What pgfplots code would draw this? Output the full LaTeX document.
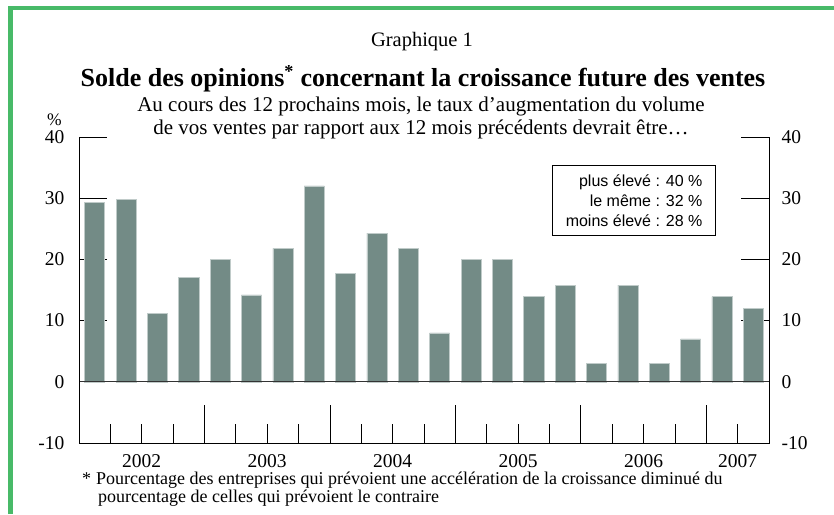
\documentclass[border=0pt]{standalone}
\usepackage{fontspec}
\setmainfont{Liberation Serif}
\setsansfont{Liberation Sans}
\usepackage{pgfplots}
\pgfplotsset{compat=1.18}
\definecolor{barcol}{RGB}{115,139,134}
\definecolor{framegreen}{RGB}{72,186,104}
\begin{document}
\begin{tikzpicture}
\useasboundingbox (0pt,0pt) rectangle (834pt,514pt);
\draw[line width=4.3pt, framegreen] (10.5pt,0pt) -- (10.5pt,506pt) -- (834pt,506pt);
% titles
\node[anchor=base, inner sep=0pt, font=\fontsize{20.5}{24}\selectfont] at (422pt,467.3pt) {Graphique 1};
\node[anchor=base, inner sep=0pt, font=\bfseries\fontsize{26}{30}\selectfont] at (423pt,427.3pt) {Solde des opinions\textsuperscript{*} concernant la croissance future des ventes};
\node[anchor=base, inner sep=0pt, font=\fontsize{21}{24}\selectfont] at (421pt,402pt) {Au cours des 12 prochains mois, le taux d’augmentation du volume};
\node[anchor=base, inner sep=0pt, font=\fontsize{21}{24}\selectfont] at (421pt,379pt) {de vos ventes par rapport aux 12 mois précédents devrait être…};
\node[anchor=base, inner sep=0pt, font=\fontsize{17.5}{20}\selectfont] at (54.5pt,388pt) {\%};
% footnote
\node[anchor=base west, inner sep=0pt, font=\fontsize{18}{20}\selectfont] at (82pt,29.5pt) {*};
\node[anchor=base west, inner sep=0pt, font=\fontsize{18}{20}\selectfont] at (96pt,29.5pt) {Pourcentage des entreprises qui prévoient une accélération de la croissance diminué du};
\node[anchor=base west, inner sep=0pt, font=\fontsize{18}{20}\selectfont] at (98pt,11.5pt) {pourcentage de celles qui prévoient le contraire};
\begin{axis}[
  at={(79pt,71pt)}, anchor=south west,
  scale only axis, width=690pt, height=306pt,
  xmin=0, xmax=22, ymin=-10, ymax=40,
  axis line style={draw=none},
  ytick={-10,0,10,20,30,40},
  ytick pos=both, yticklabel pos=left,
  tick align=inside, major tick length=28pt,
  y tick style={black, line width=0.8pt},
  xtick={2,6,10,14,18,21},
  xticklabels={2002,2003,2004,2005,2006,2007},
  x tick style={draw=none},
  xticklabel style={anchor=base, yshift=-24pt},
  yticklabel style={xshift=-11pt},
  tick label style={font=\fontsize{19.5}{22}\selectfont},
  /pgf/number format/assume math mode=true,
  clip=false,
]
\addplot[ybar, bar width=0.64, fill=barcol, draw=barcol!45!white, line width=0.6pt] coordinates {
(0.5,29.3) (1.5,29.8) (2.5,11.2) (3.5,17.0) (4.5,20.0) (5.5,14.2)
(6.5,21.8) (7.5,32.0) (8.5,17.7) (9.5,24.3) (10.5,21.8) (11.5,8.0)
(12.5,20.0) (13.5,20.0) (14.5,13.9) (15.5,15.8) (16.5,3.0) (17.5,15.8)
(18.5,3.0) (19.5,7.0) (20.5,13.9) (21.5,12.0)
};
\draw[black!80, line width=0.9pt] (axis cs:0,0) -- (axis cs:22,0);
\draw[black, line width=0.8pt] (axis cs:0,40) -- (axis cs:0,-10) -- (axis cs:22,-10) -- (axis cs:22,40);
\pgfplotsinvokeforeach{1,2,3,5,6,7,9,10,11,13,14,15,17,18,19,21}{
  \draw[black, line width=0.7pt] (axis cs:#1,-10) -- (axis cs:#1,-6.9);
}
\pgfplotsinvokeforeach{4,8,12,16,20}{
  \draw[black, line width=0.7pt] (axis cs:#1,-10) -- (axis cs:#1,-3.8);
}
\node[draw, line width=0.8pt, fill=white, anchor=north east, align=right,
  font=\sffamily\fontsize{16}{20}\selectfont, inner xsep=13pt, inner ysep=7pt,
  minimum width=163pt, minimum height=70pt]
  at (axis cs:20.31,35.43) {plus élevé : 40 \%\\ le même : 32 \%\\ moins élevé : 28 \%};
\end{axis}
\begin{axis}[
  at={(79pt,71pt)}, anchor=south west,
  scale only axis, width=690pt, height=306pt,
  xmin=0, xmax=22, ymin=-10, ymax=40,
  axis line style={draw=none},
  ytick={-10,0,10,20,30,40},
  ytick pos=right, yticklabel pos=right,
  y tick style={draw=none},
  xtick=\empty,
  yticklabel style={xshift=9pt},
  tick label style={font=\fontsize{19.5}{22}\selectfont},
  /pgf/number format/assume math mode=true,
]
\end{axis}
\end{tikzpicture}
\end{document}
